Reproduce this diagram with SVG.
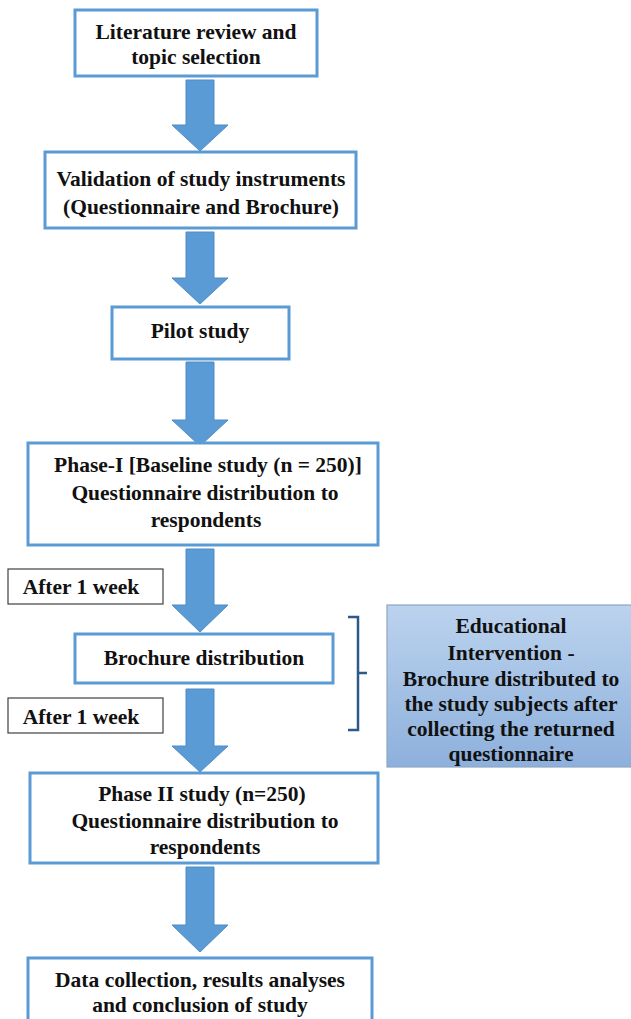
<svg xmlns="http://www.w3.org/2000/svg" width="631" height="1019" viewBox="0 0 631 1019">
<defs>
<linearGradient id="eduGrad" x1="0" y1="0" x2="0" y2="1">
<stop offset="0" stop-color="#bcd3ee"/>
<stop offset="1" stop-color="#8db0dc"/>
</linearGradient>
<style>
.box{fill:#ffffff;stroke:#5b9bd5;stroke-width:3}
.wbox{fill:#ffffff;stroke:#404040;stroke-width:1.2}
.arrow{fill:#5b9bd5;stroke:#4f8bc4;stroke-width:1}
text{font-family:"Liberation Serif","Times New Roman",serif;font-weight:bold;font-size:21.5px;fill:#111111;text-anchor:middle}
</style>
</defs>
<rect width="631" height="1019" fill="#ffffff"/>
<g id="connectors">
<path class="arrow" d="M186,80 H214 V125 H228 L200,151 L172,125 H186 Z"/>
<path class="arrow" d="M186,232 H214 V278 H228 L200,304 L172,278 H186 Z"/>
<path class="arrow" d="M186,362 H214 V420 H228 L200,446 L172,420 H186 Z"/>
<path class="arrow" d="M186,549 H214 V605 H228 L200,632 L172,605 H186 Z"/>
<path class="arrow" d="M186,689 H214 V746 H228 L200,772 L172,746 H186 Z"/>
<path class="arrow" d="M186,867 H214 V925 H228 L200,952 L172,925 H186 Z"/>
<path d="M348,617 H358 V673 H367 M358,673 V730 H348" fill="none" stroke="#2e5a8a" stroke-width="2.5"/>
</g>
<g id="n1">
<rect class="box" x="75" y="10" width="242" height="66"/>
<text x="196" y="39">Literature review and</text>
<text x="196" y="64">topic selection</text>
</g>
<g id="n2">
<rect class="box" x="45" y="152" width="311" height="76"/>
<text x="201" y="186">Validation of study instruments</text>
<text x="201" y="214">(Questionnaire and Brochure)</text>
</g>
<g id="n3">
<rect class="box" x="112" y="307" width="177" height="52"/>
<text x="200" y="338">Pilot study</text>
</g>
<g id="n4">
<rect class="box" x="28" y="443" width="350" height="102"/>
<text x="208" y="472">Phase-I [Baseline study (n = 250)]</text>
<text x="205" y="500">Questionnaire distribution to</text>
<text x="206" y="527">respondents</text>
</g>
<g id="w1">
<rect class="wbox" x="8" y="569" width="155" height="35"/>
<text x="81" y="594">After 1 week</text>
</g>
<g id="n5">
<rect class="box" x="75" y="634" width="258" height="49"/>
<text x="204" y="665">Brochure distribution</text>
</g>
<g id="w2">
<rect class="wbox" x="8" y="698" width="155" height="35"/>
<text x="81" y="724">After 1 week</text>
</g>
<g id="edu">
<rect x="387" y="605" width="250" height="162" fill="url(#eduGrad)" stroke="#8ea6c4" stroke-width="1.2"/>
<text x="511" y="633">Educational</text>
<text x="511" y="660">Intervention -</text>
<text x="511" y="686">Brochure distributed to</text>
<text x="511" y="711">the study subjects after</text>
<text x="511" y="736">collecting the returned</text>
<text x="511" y="761">questionnaire</text>
</g>
<g id="n6">
<rect class="box" x="30" y="773" width="348" height="90"/>
<text x="202" y="801">Phase II study (n=250)</text>
<text x="205" y="828">Questionnaire distribution to</text>
<text x="205" y="854">respondents</text>
</g>
<g id="n7">
<rect class="box" x="28" y="958" width="344" height="70"/>
<text x="200" y="987">Data collection, results analyses</text>
<text x="200" y="1012">and conclusion of study</text>
</g>
</svg>
